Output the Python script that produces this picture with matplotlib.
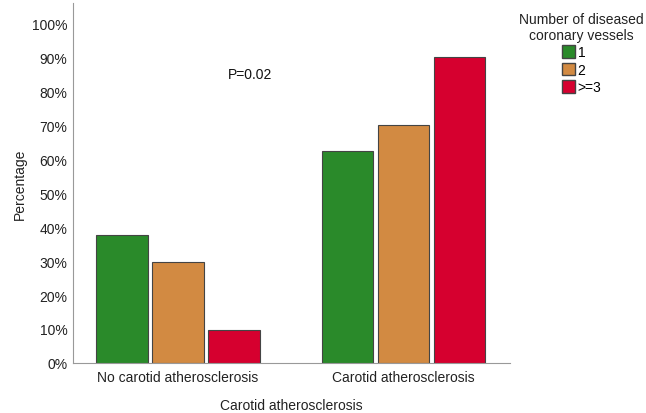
import numpy as np
import matplotlib
matplotlib.use("Agg")
import matplotlib.pyplot as plt
from matplotlib.patches import Patch

plt.rcParams['font.family'] = ['Liberation Sans', 'DejaVu Sans']

categories = ["No carotid atherosclerosis", "Carotid atherosclerosis"]
series_labels = ["1", "2", ">=3"]
pct_1 = [37.7, 62.3]
pct_2 = [29.8, 70.2]
pct_3 = [9.8, 90.2]
colors = ["#2a8a2a", "#d28a42", "#d6002f"]

fig = plt.figure(figsize=(6.46, 4.14), dpi=100)
ax = fig.add_axes([0.113, 0.121, 0.676, 0.869])

x = np.arange(len(categories))
width = 0.226
step = 0.248
for i, (vals, c, lab) in enumerate(zip([pct_1, pct_2, pct_3], colors, series_labels)):
    ax.bar(x + (i - 1) * step, vals, width, color=c, edgecolor="#444444",
           linewidth=0.8, label=lab)

ax.set_xlim(-0.465, 1.469)
ax.set_ylim(0, 106)
ax.set_yticks(np.arange(0, 101, 10))
ax.set_yticklabels([f"{v}%" for v in range(0, 101, 10)])
ax.set_xticks(x)
ax.set_xticklabels(categories)
ax.tick_params(axis="y", length=0, labelsize=10, colors="#222222", pad=4)
ax.tick_params(axis="x", length=0, labelsize=10, colors="#222222", pad=5)
for s in ["top", "right"]:
    ax.spines[s].set_visible(False)
for s in ["left", "bottom"]:
    ax.spines[s].set_color("#999999")

ax.set_xlabel("Carotid atherosclerosis", fontsize=10, color="#222222", labelpad=10)
ax.set_ylabel("Percentage", fontsize=10, color="#222222", labelpad=4)
ax.text(0.32, 85, "P=0.02", fontsize=10, color="#111111", ha="center", va="center")

handles = [Patch(facecolor=c, edgecolor="#444444", label=l) for c, l in zip(colors, series_labels)]
leg = fig.legend(handles=handles, title="Number of diseased\ncoronary vessels",
                 loc="upper center", bbox_to_anchor=(0.9, 1.0), frameon=False,
                 fontsize=10, title_fontsize=10, handlelength=1.0, handleheight=1.0,
                 handletextpad=0.15, labelspacing=0.25)
leg.get_title().set_multialignment("center")
leg.get_title().set_color("#222222")
leg._legend_box.align = "center"

fig.savefig("out.png", dpi=100)
